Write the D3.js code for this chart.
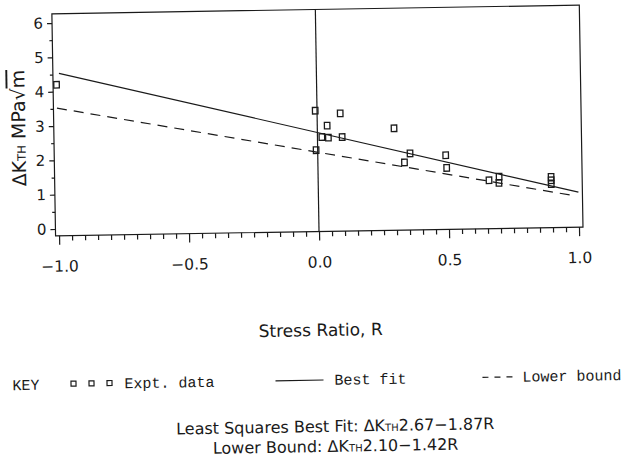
<!DOCTYPE html>
<html>
<head>
<meta charset="utf-8">
<script src="https://cdn.jsdelivr.net/npm/d3@7/dist/d3.min.js"></script>
<style>
  html, body { margin: 0; padding: 0; background: #fff; }
  svg { display: block; }
  text { fill: #1a1a1a; }
</style>
</head>
<body>
<svg id="chart" width="644" height="461"></svg>
<script>
// ---------- data ----------
const exptR = [-1.00, -0.007, 0.089, 0.038, 0.017, 0.042, 0.095, -0.006, 0.295, 0.355, 0.333, 0.492, 0.495, 0.657, 0.696, 0.695, 0.896, 0.896, 0.896];
const exptK = [4.20, 3.32, 3.23, 2.88, 2.55, 2.53, 2.54, 2.17, 2.77, 2.03, 1.77, 1.96, 1.59, 1.21, 1.31, 1.13, 1.28, 1.18, 1.07];

const bestFitR = [-0.99, 1.00];
const bestFitK = [4.53, 0.82];
const lowerR = [-1.00, 0.97];
const lowerK = [3.52, 0.74];

const xMajorTicks = [-1.0, -0.5, 0.0, 0.5, 1.0];
const xTickLabels = ["\u22121.0", "\u22120.5", "0.0", "0.5", "1.0"];
const yMajorTicks = [0, 1, 2, 3, 4, 5, 6];
const yTickLabels = ["0", "1", "2", "3", "4", "5", "6"];

const xTitle = "Stress Ratio, R";
const formula1 = ["Least Squares Best Fit: \u0394K", "TH", "2.67\u22121.87R"];
const formula2 = ["Lower Bound: \u0394K", "TH", "2.10\u22121.42R"];

// ---------- layout ----------
const box = { left: 55.5, right: 583, top: 9.4, bottom: 231.4 };
const x = d3.scaleLinear().domain([-1, 1]).range([59, 579]);
const y = d3.scaleLinear().domain([0, 6]).range([224.6, 18.6]);

const svg = d3.select("#chart");
svg.append("rect").attr("width", 644).attr("height", 461).attr("fill", "#fff");
const g = svg.append("g").attr("transform", "rotate(-0.95, 322, 230)");

const ink = "#1a1a1a";
const sansFont = "'DejaVu Sans', sans-serif";
const monoFont = "'Liberation Mono', 'DejaVu Sans Mono', monospace";

// frame
g.append("rect")
  .attr("x", box.left).attr("y", box.top)
  .attr("width", box.right - box.left).attr("height", box.bottom - box.top)
  .attr("fill", "none").attr("stroke", ink).attr("stroke-width", 1.2);

// vertical zero line
g.append("line")
  .attr("x1", x(0)).attr("x2", x(0))
  .attr("y1", box.top).attr("y2", box.bottom)
  .attr("stroke", ink).attr("stroke-width", 1.2);

// x axis: minor ticks
const xMinor = d3.range(-20, 21).map(i => i / 20).filter(v => Math.abs(v * 2 - Math.round(v * 2)) > 1e-6);
const xAxisMinor = d3.axisBottom(x).tickValues(xMinor).tickSize(5).tickFormat("");
const xAxisMajor = d3.axisBottom(x).tickValues(xMajorTicks).tickSize(9).tickPadding(16)
  .tickFormat((d, i) => xTickLabels[i]);
const gxMin = g.append("g").attr("transform", `translate(0,${box.bottom})`).call(xAxisMinor);
const gxMaj = g.append("g").attr("transform", `translate(0,${box.bottom})`).call(xAxisMajor);
[gxMin, gxMaj].forEach(a => {
  a.select(".domain").remove();
  a.selectAll(".tick line").attr("stroke", ink).attr("stroke-width", 1.2);
});
gxMaj.selectAll(".tick text").attr("font-family", sansFont).attr("font-size", 15.5).attr("fill", ink);

// y axis
const yMinor = d3.range(1, 12, 2).map(i => i / 2);
const yAxisMinor = d3.axisLeft(y).tickValues(yMinor).tickSize(3).tickFormat("");
const yAxisMajor = d3.axisLeft(y).tickValues(yMajorTicks).tickSize(5).tickPadding(4)
  .tickFormat((d, i) => yTickLabels[i]);
const gyMin = g.append("g").attr("transform", `translate(${box.left},0)`).call(yAxisMinor);
const gyMaj = g.append("g").attr("transform", `translate(${box.left},0)`).call(yAxisMajor);
[gyMin, gyMaj].forEach(a => {
  a.select(".domain").remove();
  a.selectAll(".tick line").attr("stroke", ink).attr("stroke-width", 1.2);
});
gyMaj.selectAll(".tick text").attr("font-family", sansFont).attr("font-size", 15).attr("fill", ink);

// y title
const yt = g.append("text")
  .attr("transform", `translate(27,123) rotate(-90)`)
  .attr("text-anchor", "middle")
  .attr("font-family", sansFont).attr("font-size", 19).attr("fill", ink);
yt.append("tspan").text("\u0394K");
yt.append("tspan").attr("font-size", 11.5).text("TH");
yt.append("tspan").text(" MPa\u221A");
yt.append("tspan").attr("text-decoration", "overline").text("m");

// x title
g.append("text")
  .attr("x", x(0)).attr("y", 336)
  .attr("text-anchor", "middle")
  .attr("font-family", sansFont).attr("font-size", 17).attr("fill", ink)
  .text(xTitle);

// lines
const line = d3.line().x(d => x(d[0])).y(d => y(d[1]));
g.append("path")
  .datum(bestFitR.map((r, i) => [r, bestFitK[i]]))
  .attr("d", line).attr("fill", "none").attr("stroke", ink).attr("stroke-width", 1.2);
g.append("path")
  .datum(lowerR.map((r, i) => [r, lowerK[i]]))
  .attr("d", line).attr("fill", "none").attr("stroke", ink).attr("stroke-width", 1.2)
  .attr("stroke-dasharray", "10,7");

// data squares
const mw = 5.5, mh = 6.5;
g.append("g").selectAll("rect")
  .data(exptR.map((r, i) => [r, exptK[i]]))
  .join("rect")
  .attr("x", d => x(d[0]) - mw / 2)
  .attr("y", d => y(d[1]) - mh / 2)
  .attr("width", mw).attr("height", mh)
  .attr("fill", "none").attr("stroke", ink).attr("stroke-width", 1.3);

// legend
const ly = 385;
const lg = g.append("g").attr("font-family", monoFont).attr("font-size", 15).attr("fill", ink);
lg.append("text").attr("x", 10).attr("y", ly).text("KEY");
[71, 89, 107].forEach(px => {
  lg.append("rect").attr("x", px - 2.5).attr("y", ly - 8).attr("width", 5).attr("height", 5)
    .attr("fill", "none").attr("stroke", ink).attr("stroke-width", 1.2);
});
lg.append("text").attr("x", 122).attr("y", ly).text("Expt. data");
lg.append("line").attr("x1", 273).attr("x2", 321).attr("y1", ly - 5).attr("y2", ly - 5)
  .attr("stroke", ink).attr("stroke-width", 1.2);
lg.append("text").attr("x", 332).attr("y", ly).text("Best fit");
lg.append("line").attr("x1", 480).attr("x2", 510).attr("y1", ly - 5).attr("y2", ly - 5)
  .attr("stroke", ink).attr("stroke-width", 1.2).attr("stroke-dasharray", "6,6");
lg.append("text").attr("x", 520).attr("y", ly).text("Lower bound");

// formulas
function formula(parts, yy) {
  const t = g.append("text").attr("x", 332).attr("y", yy).attr("text-anchor", "middle")
    .attr("font-family", sansFont).attr("font-size", 16).attr("fill", ink);
  t.append("tspan").text(parts[0]);
  t.append("tspan").attr("font-size", 10).text(parts[1]);
  t.append("tspan").text(parts[2]);
}
formula(formula1, 432);
formula(formula2, 452);
</script>
</body>
</html>
